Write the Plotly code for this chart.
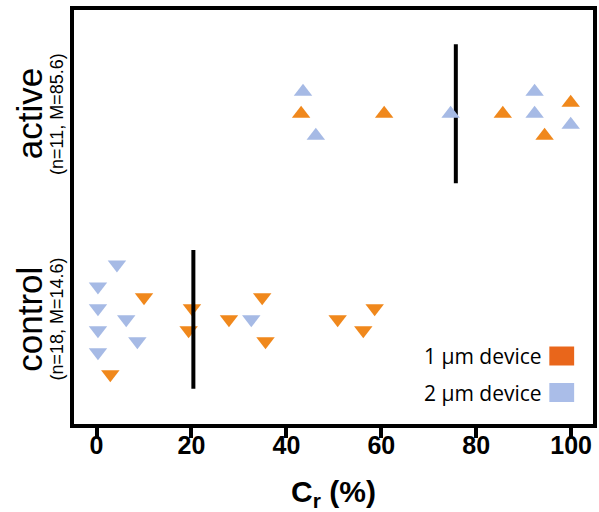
import plotly.graph_objects as go

# ---------------- data ----------------
groups = ["control", "active"]
group_pos = {"control": 0.0, "active": 1.0}
group_sub = {"control": "(n=18, M=14.6)", "active": "(n=11, M=85.6)"}
medians = {"control": 20.4, "active": 75.7}

# C_r values (%) and vertical jitter level (downward positive, in rows)
active_1um_x = [43.1, 60.6, 85.6, 94.4, 99.9]
active_1um_lvl = [0, 0, 0, 1, -0.5]
active_2um_x = [43.5, 46.2, 74.6, 92.3, 92.3, 99.9]
active_2um_lvl = [-1, 1, 0, -1, 0, 0.5]

control_1um_x = [2.9, 10.0, 19.4, 20.1, 27.9, 34.9, 35.6, 50.8, 56.2, 58.6]
control_1um_lvl = [2.5, -1, 0.5, -0.5, 0, -1, 1, 0, 0.5, -0.5]
control_2um_x = [0.3, 0.3, 0.3, 0.3, 4.3, 6.25, 8.6, 32.6]
control_2um_lvl = [-1.5, -0.5, 0.5, 1.5, -2.5, 0, 1, 0]

x_ticks = [0, 20, 40, 60, 80, 100]
legend_labels = ["1 μm device", "2 μm device"]

# ---------------- style ----------------
ORANGE = "#F0881C"
BLUE = "#A6BAE5"
LEG_ORANGE = "#E9661B"
LEG_BLUE = "#AABDE8"
STEP = 0.107          # y units per jitter row
HALF_LINE = 0.338     # half length of median line
MSIZE = 16
X_RANGE = [-4.75, 104.6]

W, H = 599, 512
# plot box in window pixels: x 74..597, y 10..424
ML, MT = 74, 10
MR = W - 597
MB = H - 424
PW, PH = W - ML - MR, H - MT - MB


def px_x(px):
    return (px - ML) / PW


def px_y(py):
    return (H - MB - py) / PH


def ys(group, lvls):
    return [group_pos[group] - l * STEP for l in lvls]


fig = go.Figure()

fig.add_trace(go.Scatter(x=active_1um_x, y=ys("active", active_1um_lvl), mode="markers",
                         marker=dict(symbol="triangle-up", size=MSIZE, color=ORANGE, line=dict(width=0)),
                         showlegend=False))
fig.add_trace(go.Scatter(x=control_1um_x, y=ys("control", control_1um_lvl), mode="markers",
                         marker=dict(symbol="triangle-down", size=MSIZE, color=ORANGE, line=dict(width=0)),
                         showlegend=False))

for g in groups:
    fig.add_trace(go.Scatter(x=[medians[g], medians[g]],
                             y=[group_pos[g] - HALF_LINE, group_pos[g] + HALF_LINE],
                             mode="lines", line=dict(color="black", width=4),
                             showlegend=False, hoverinfo="skip"))

fig.add_trace(go.Scatter(x=active_2um_x, y=ys("active", active_2um_lvl), mode="markers",
                         marker=dict(symbol="triangle-up", size=MSIZE, color=BLUE, line=dict(width=0)),
                         showlegend=False))
fig.add_trace(go.Scatter(x=control_2um_x, y=ys("control", control_2um_lvl), mode="markers",
                         xaxis="x2",
                         marker=dict(symbol="triangle-down", size=MSIZE, color=BLUE, line=dict(width=0)),
                         showlegend=False))

annotations = []
for g in groups:
    annotations.append(dict(text=g, x=px_x(29), xref="paper", y=group_pos[g], yref="y",
                            textangle=-90, showarrow=False, xanchor="center", yanchor="middle",
                            font=dict(family="Liberation Sans", size=35, color="black")))
    annotations.append(dict(text=group_sub[g], x=px_x(57), xref="paper", y=group_pos[g], yref="y",
                            textangle=-90, showarrow=False, xanchor="center", yanchor="middle",
                            font=dict(family="Liberation Sans", size=18, color="black")))

leg_rows = [356, 392.5]
leg_cols = [LEG_ORANGE, LEG_BLUE]
shapes = []
for lab, row, col in zip(legend_labels, leg_rows, leg_cols):
    annotations.append(dict(text=lab, x=px_x(548), xref="paper", y=px_y(row), yref="paper",
                            showarrow=False, xanchor="right", yanchor="middle",
                            font=dict(family="Open Sans", size=21, color="black")))
    shapes.append(dict(type="rect", xref="paper", yref="paper",
                       x0=px_x(553), x1=px_x(578), y0=px_y(row - 9.5), y1=px_y(row + 9.5),
                       fillcolor=col, line=dict(width=0)))

fig.update_layout(
    width=W, height=H,
    margin=dict(l=ML, r=MR, t=MT, b=MB, pad=0),
    plot_bgcolor="white", paper_bgcolor="white",
    annotations=annotations, shapes=shapes,
    # frame + tick marks
    xaxis=dict(range=X_RANGE, tickvals=x_ticks, ticks="outside", ticklen=10, tickwidth=4,
               tickcolor="black", showline=True, mirror=True, linewidth=4, linecolor="black",
               showgrid=False, zeroline=False, showticklabels=False),
    # tick labels + title (no tick marks, so labels sit closer to the frame)
    xaxis2=dict(range=X_RANGE, matches="x", overlaying="x", side="bottom", anchor="y",
                tickvals=x_ticks, ticks="", showline=False, showgrid=False, zeroline=False,
                ticklabelstandoff=4,
                tickfont=dict(family="Liberation Sans", size=25, color="black", weight="bold"),
                title=dict(text="C<sub>r</sub> (%)", standoff=24,
                           font=dict(family="Liberation Sans", size=30, color="black", weight="bold"))),
    yaxis=dict(range=[-0.509, 1.505], showticklabels=False, ticks="", showline=True, mirror=True,
               linewidth=4, linecolor="black", showgrid=False, zeroline=False),
)

fig.write_html("out.html", config={"displayModeBar": False},
               post_script="document.body.style.margin='0';document.body.style.overflow='hidden';")
